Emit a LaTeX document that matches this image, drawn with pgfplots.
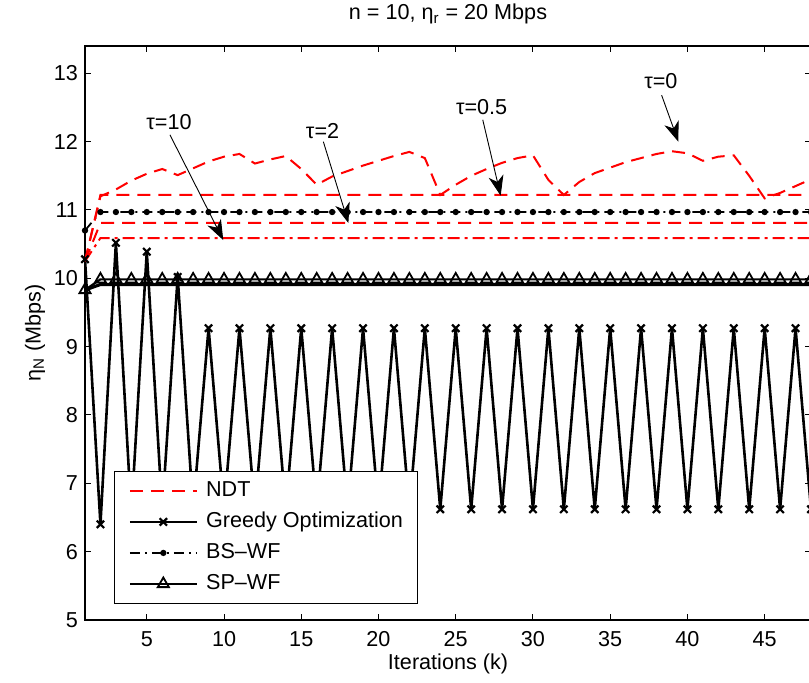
\documentclass[border=0pt]{standalone}
\usepackage{fontspec}
\setmainfont{Liberation Sans}
\usepackage{pgfplots}
\pgfplotsset{compat=1.18}
\usetikzlibrary{arrows.meta}
\begin{document}
\begin{tikzpicture}
\begin{axis}[
  at={(0,0)}, anchor=south west,
  scale only axis, width=363pt, height=287pt,
  xmin=1, xmax=48, ymin=5, ymax=13.4,
  xtick={5,10,...,45}, ytick={5,6,...,13},
  tick align=inside, tick pos=both,
  major tick length=3pt,
  axis line style={line width=0.7pt},
  every tick/.style={black, line width=0.5pt},
  font=\fontsize{10.8}{13}\selectfont,
  /pgf/number format/assume math mode=true,
  xticklabel style={yshift=-2.3pt},
  title={n = 10, η\textsubscript{r} = 20 Mbps},
  every axis title/.style={at={(axis description cs:0.5,1)}, anchor=base, yshift=13pt, inner sep=0pt},
  xlabel={Iterations (k)},
  every axis x label/.style={at={(axis description cs:0.5,0)}, anchor=base, yshift=-25pt, inner sep=0pt},
  ylabel={η\textsubscript{N} (Mbps)},
  every axis y label/.style={at={(axis description cs:-0.061,0.5)}, anchor=base, rotate=90, inner sep=0pt},
  legend style={at={(rel axis cs:0.04,0.028)}, anchor=south west, draw=black, line width=0.5pt,
    fill=white, inner xsep=7pt, inner ysep=4.5pt, row sep=5pt,
    nodes={inner sep=0pt, text height=8pt, text depth=2.5pt},
    /tikz/every odd column/.append style={column sep=4pt}},
  legend cell align=left,
  legend image code/.code={\draw[mark repeat=2,mark phase=2,#1] plot coordinates {(0pt,0pt) (16.75pt,0pt) (33.5pt,0pt)};},
]
% NDT tau=0 (wavy)
\addplot[red, line width=1pt, dash pattern=on 6.5pt off 4pt] coordinates {
(1,10.25)(2,11.2)(3,11.3)(4,11.43)(5,11.53)(6,11.6)(7,11.51)(8,11.61)(9,11.71)(10,11.78)
(11,11.82)(12,11.68)(13,11.74)(14,11.79)(15,11.6)(16,11.37)(17,11.49)(18,11.57)(19,11.65)(20,11.72)
(21,11.79)(22,11.85)(23,11.76)(24,11.22)(25,11.37)(26,11.5)(27,11.6)(28,11.69)(29,11.76)(30,11.8)
(31,11.44)(32,11.22)(33,11.41)(34,11.54)(35,11.62)(36,11.7)(37,11.76)(38,11.82)(39,11.86)(40,11.83)
(41,11.72)(42,11.78)(43,11.8)(44,11.5)(45,11.17)(46,11.25)(47,11.35)(48,11.45)};
\addlegendentry{NDT}
% Greedy
\addplot[black, line width=1.3pt, mark=x, mark size=2.6pt, mark options={solid, line width=1.1pt}] coordinates {
(1,10.28)(2,6.40)(3,10.52)(4,6.55)(5,10.39)(6,6.6)(7,10.02)(8,6.62)(9,9.27)(10,6.62)
(11,9.27)(12,6.62)(13,9.27)(14,6.62)(15,9.27)(16,6.62)(17,9.27)(18,6.62)(19,9.27)(20,6.62)
(21,9.27)(22,6.62)(23,9.27)(24,6.62)(25,9.27)(26,6.62)(27,9.27)(28,6.62)(29,9.27)(30,6.62)
(31,9.27)(32,6.62)(33,9.27)(34,6.62)(35,9.27)(36,6.62)(37,9.27)(38,6.62)(39,9.27)(40,6.62)
(41,9.27)(42,6.62)(43,9.27)(44,6.62)(45,9.27)(46,6.62)(47,9.27)(48,6.62)};
\addlegendentry{Greedy Optimization}
% BS-WF
\addplot[black, line width=0.9pt, dash pattern=on 5pt off 2.5pt on 1pt off 2.5pt, mark=*, mark size=1.1pt, mark options={solid}] coordinates {
(1,10.7)(2,10.97)(3,10.97)(4,10.97)(5,10.97)(6,10.97)(7,10.97)(8,10.97)(9,10.97)(10,10.97)
(11,10.97)(12,10.97)(13,10.97)(14,10.97)(15,10.97)(16,10.97)(17,10.97)(18,10.97)(19,10.97)(20,10.97)
(21,10.97)(22,10.97)(23,10.97)(24,10.97)(25,10.97)(26,10.97)(27,10.97)(28,10.97)(29,10.97)(30,10.97)
(31,10.97)(32,10.97)(33,10.97)(34,10.97)(35,10.97)(36,10.97)(37,10.97)(38,10.97)(39,10.97)(40,10.97)
(41,10.97)(42,10.97)(43,10.97)(44,10.97)(45,10.97)(46,10.97)(47,10.97)(48,10.97)};
\addlegendentry{BS{\textendash}WF}
% SP-WF
\addplot[black, line width=1.1pt, mark=triangle, mark size=3.2pt, mark options={solid, line width=0.9pt, fill=white}] coordinates {
(1,9.83)(2,9.985)(3,9.985)(4,9.985)(5,9.985)(6,9.985)(7,9.985)(8,9.985)(9,9.985)(10,9.985)
(11,9.985)(12,9.985)(13,9.985)(14,9.985)(15,9.985)(16,9.985)(17,9.985)(18,9.985)(19,9.985)(20,9.985)
(21,9.985)(22,9.985)(23,9.985)(24,9.985)(25,9.985)(26,9.985)(27,9.985)(28,9.985)(29,9.985)(30,9.985)
(31,9.985)(32,9.985)(33,9.985)(34,9.985)(35,9.985)(36,9.985)(37,9.985)(38,9.985)(39,9.985)(40,9.985)
(41,9.985)(42,9.985)(43,9.985)(44,9.985)(45,9.985)(46,9.985)(47,9.985)(48,9.985)};
\addlegendentry{SP{\textendash}WF}
% extra solid line
\addplot[black, line width=1.6pt, forget plot] coordinates {(1,9.83)(2,9.91)(48,9.91)};
% NDT tau=0.5
\addplot[red, line width=1pt, dash pattern=on 6.5pt off 4pt, forget plot] coordinates {(1,10.25)(2,11.22)(48,11.22)};
% NDT tau=2
\addplot[red, line width=1pt, dash pattern=on 6.5pt off 4pt, forget plot] coordinates {(1,10.25)(2,10.81)(48,10.81)};
% NDT tau=10
\addplot[red, line width=1pt, dash pattern=on 6pt off 2.5pt on 1.5pt off 2.5pt, forget plot] coordinates {(1,10.25)(2,10.59)(48,10.59)};
% annotations
\draw[-{Stealth[length=10pt,width=7.5pt,inset=3pt]}, line width=0.45pt] (axis cs:6.50,12.10) -- (axis cs:9.95,10.56);
\node at (axis cs:6.44,12.28) {τ=10};
\draw[-{Stealth[length=10pt,width=7.5pt,inset=3pt]}, line width=0.45pt] (axis cs:16.43,12.0) -- (axis cs:18.05,10.81);
\node at (axis cs:16.38,12.15) {τ=2};
\draw[-{Stealth[length=10pt,width=7.5pt,inset=3pt]}, line width=0.45pt] (axis cs:26.75,12.32) -- (axis cs:27.91,11.21);
\node at (axis cs:26.68,12.5) {τ=0.5};
\draw[-{Stealth[length=10pt,width=7.5pt,inset=3pt]}, line width=0.45pt] (axis cs:38.33,12.68) -- (axis cs:39.41,12.0);
\node at (axis cs:38.28,12.88) {τ=0};
\end{axis}
\pgfresetboundingbox
\path (-42.5pt,-31.5pt) rectangle (362pt,310pt);
\end{tikzpicture}
\end{document}
